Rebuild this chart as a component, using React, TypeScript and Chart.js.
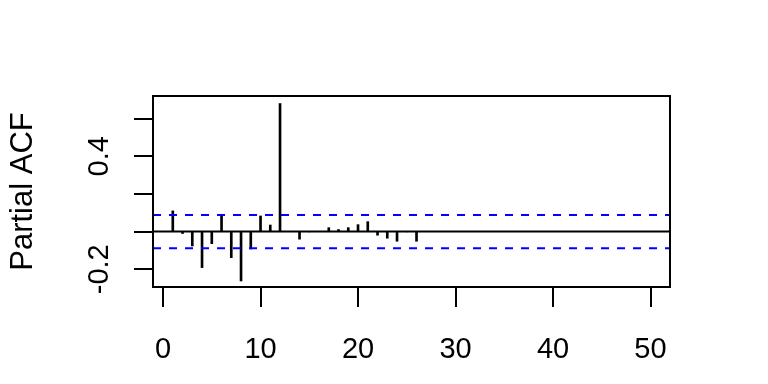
import React, { useEffect, useRef } from 'react';
import { Chart, registerables } from 'chart.js';

Chart.register(...registerables);

const lags = [1, 2, 3, 4, 5, 6, 7, 8, 9, 10, 11, 12, 13, 14, 15, 16, 17, 18, 19, 20, 21, 22, 23, 24, 25, 26];
const pacfValues = [
  0.11, -0.01, -0.076, -0.191, -0.064, 0.083, -0.138, -0.262, -0.092, 0.083, 0.035, 0.68,
  0.001, -0.04, -0.001, 0.001, 0.021, 0.011, 0.021, 0.037, 0.053, -0.019, -0.035, -0.051, -0.001, -0.051,
];
const xTickValues = [0, 10, 20, 30, 40, 50];
const xTickLabels = ['0', '10', '20', '30', '40', '50'];
const yTickValues = [-0.2, 0, 0.2, 0.4, 0.6];
const yTickLabels = ['-0.2', '', '', '0.4', ''];
const ciBound = 0.088;
const xLimits = [-1.03, 52.0];
const yLimits = [-0.294, 0.72];
const yAxisTitle = 'Partial ACF';

const FONT = '"Liberation Sans", Arial, sans-serif';

const rStylePlugin = {
  id: 'rStyle',
  afterDraw(chart: any) {
    const { ctx, chartArea } = chart;
    const xs = chart.scales.x;
    const ys = chart.scales.y;
    ctx.save();
    ctx.strokeStyle = '#000';
    ctx.lineWidth = 2;
    ctx.strokeRect(chartArea.left, chartArea.top, chartArea.right - chartArea.left, chartArea.bottom - chartArea.top);
    ctx.beginPath();
    xTickValues.forEach((v) => {
      const px = Math.round(xs.getPixelForValue(v));
      ctx.moveTo(px, chartArea.bottom);
      ctx.lineTo(px, chartArea.bottom + 20);
    });
    yTickValues.forEach((v) => {
      const py = Math.round(ys.getPixelForValue(v));
      ctx.moveTo(chartArea.left, py);
      ctx.lineTo(chartArea.left - 19, py);
    });
    ctx.stroke();
    ctx.fillStyle = '#000';
    ctx.font = `29px ${FONT}`;
    ctx.textAlign = 'center';
    ctx.textBaseline = 'alphabetic';
    xTickValues.forEach((v, i) => {
      const px = xs.getPixelForValue(v);
      ctx.fillText(xTickLabels[i], px, 358);
    });
    yTickValues.forEach((v, i) => {
      if (!yTickLabels[i]) return;
      const py = ys.getPixelForValue(v);
      ctx.save();
      ctx.translate(108, py);
      ctx.rotate(-Math.PI / 2);
      ctx.fillText(yTickLabels[i], 0, 0);
      ctx.restore();
    });
    ctx.save();
    ctx.font = `31px ${FONT}`;
    ctx.translate(32, (chartArea.top + chartArea.bottom) / 2);
    ctx.rotate(-Math.PI / 2);
    ctx.fillText(yAxisTitle, 0, 0);
    ctx.restore();
    ctx.restore();
  },
};

export default function App() {
  const canvasRef = useRef<HTMLCanvasElement | null>(null);

  useEffect(() => {
    if (!canvasRef.current) return;
    const chart = new Chart(canvasRef.current, {
      type: 'bar',
      data: {
        datasets: [
          {
            type: 'bar',
            data: lags.map((l, i) => ({ x: l, y: pacfValues[i] })),
            backgroundColor: '#000',
            borderWidth: 0,
            barThickness: 2,
            order: 3,
          } as any,
          {
            type: 'line',
            data: [
              { x: xLimits[0], y: 0 },
              { x: xLimits[1], y: 0 },
            ],
            borderColor: '#000',
            borderWidth: 2,
            pointRadius: 0,
            order: 2,
          },
          {
            type: 'line',
            data: [
              { x: xLimits[0], y: ciBound },
              { x: xLimits[1], y: ciBound },
            ],
            borderColor: '#0000FF',
            borderWidth: 2,
            borderDash: [8, 8],
            pointRadius: 0,
            order: 1,
          },
          {
            type: 'line',
            data: [
              { x: xLimits[0], y: -ciBound },
              { x: xLimits[1], y: -ciBound },
            ],
            borderColor: '#0000FF',
            borderWidth: 2,
            borderDash: [8, 8],
            pointRadius: 0,
            order: 1,
          },
        ],
      },
      options: {
        animation: false,
        responsive: false,
        maintainAspectRatio: false,
        layout: { padding: { left: 0, top: 96, right: 98, bottom: 0 } },
        plugins: { legend: { display: false }, tooltip: { enabled: false } },
        scales: {
          x: {
            type: 'linear',
            min: xLimits[0],
            max: xLimits[1],
            offset: false,
            grid: { display: false, offset: false },
            border: { display: false },
            ticks: { display: false },
            afterFit: (s: any) => {
              s.height = 97;
            },
          },
          y: {
            type: 'linear',
            min: yLimits[0],
            max: yLimits[1],
            grid: { display: false },
            border: { display: false },
            ticks: { display: false },
            afterFit: (s: any) => {
              s.width = 153;
            },
          },
        },
      },
      plugins: [rStylePlugin],
    });
    return () => chart.destroy();
  }, []);

  return (
    <div style={{ position: 'fixed', left: 0, top: 0, width: 768, height: 384, background: '#fff' }}>
      <canvas ref={canvasRef} width={768} height={384} style={{ width: 768, height: 384 }} />
    </div>
  );
}
